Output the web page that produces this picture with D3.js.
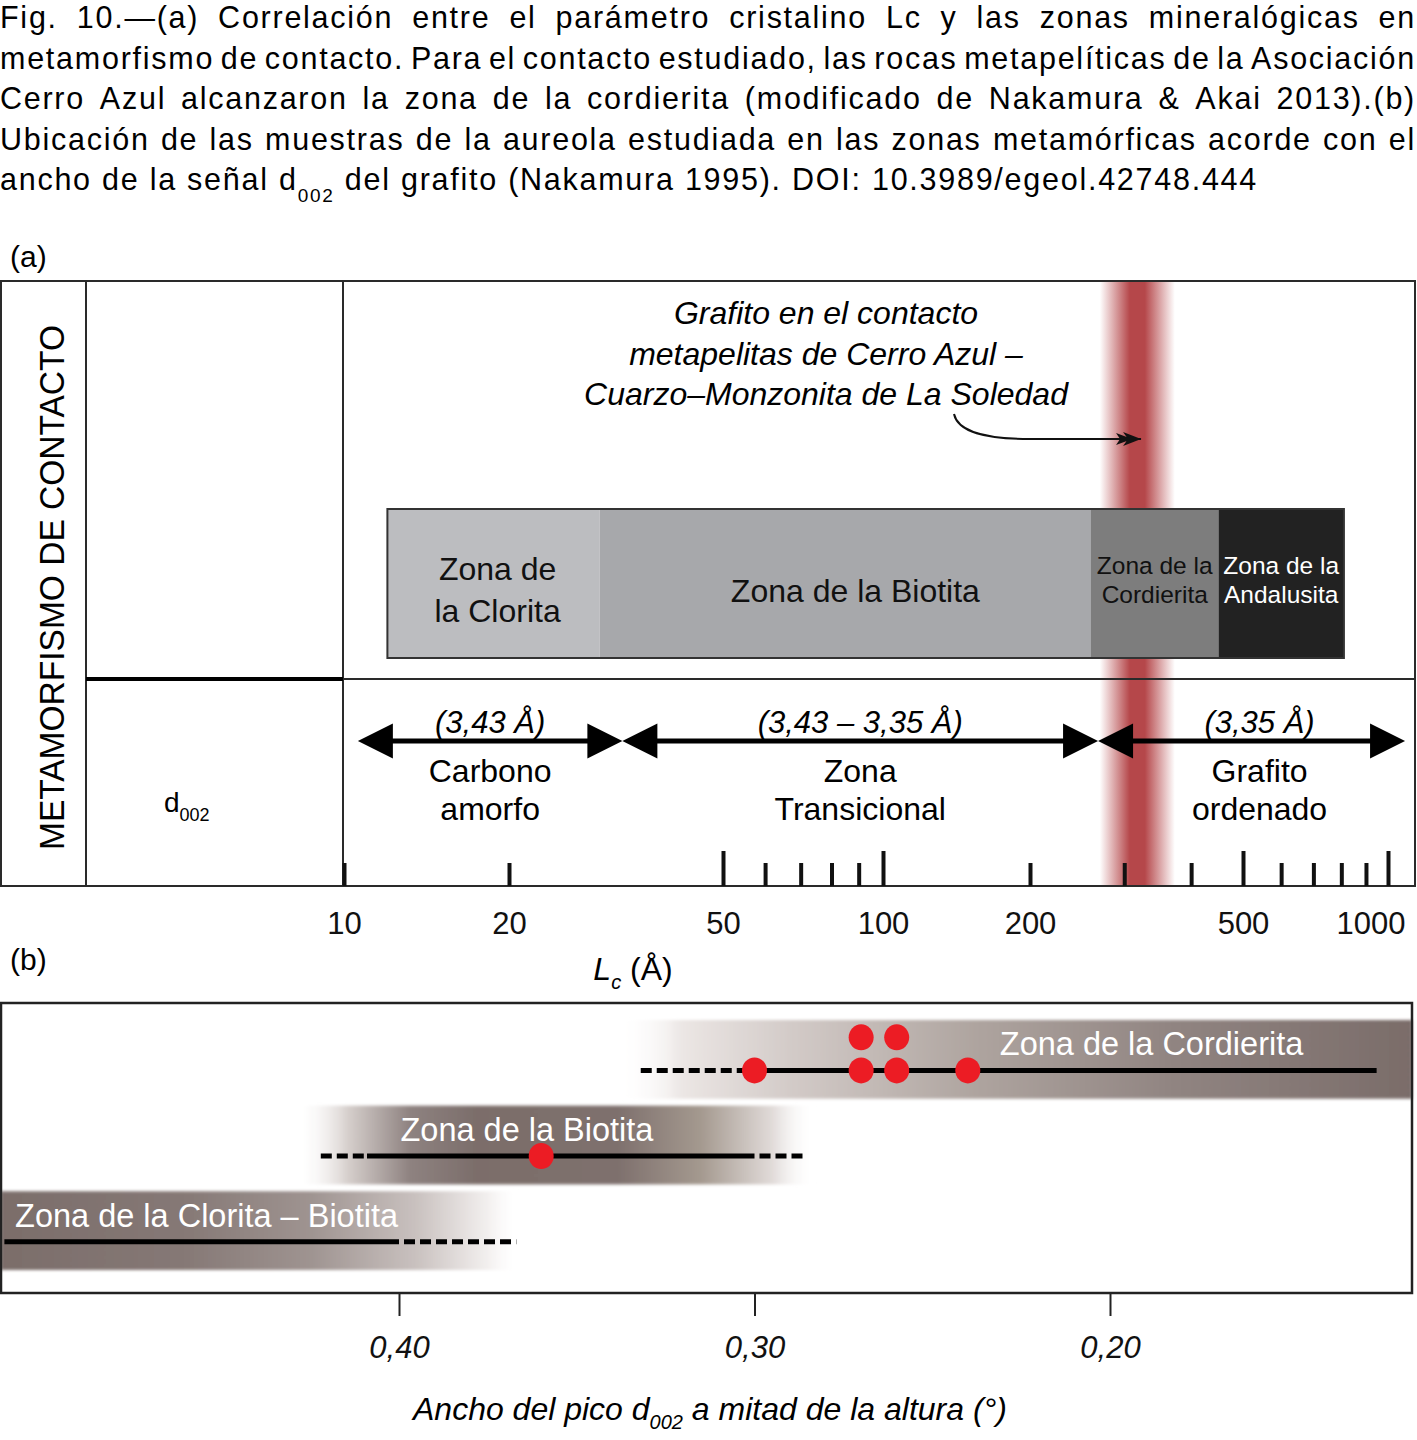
<!DOCTYPE html>
<html lang="es">
<head>
  <meta charset="UTF-8">
  <title>Fig. 10 - Lc y zonas metamórficas</title>
  <script src="https://d3js.org/d3.v7.min.js"></script>
  <style>
    body { margin: 0; background: #fff; }
    svg { display: block; font-family: "Liberation Sans", Arial, Helvetica, sans-serif; }
  </style>
</head>
<body>
<script>
  const width = 1417, height = 1440;

  // ---- caption ----
  const captionLines = [
    "Fig. 10.—(a) Correlación entre el parámetro cristalino Lc y las zonas mineralógicas en",
    "metamorfismo de contacto. Para el contacto estudiado, las rocas metapelíticas de la Asociación",
    "Cerro Azul alcanzaron la zona de la cordierita (modificado de Nakamura & Akai 2013).(b)",
    "Ubicación de las muestras de la aureola estudiada en las zonas metamórficas acorde con el"
  ];
  const captionLast = ["ancho de la señal d", "002", " del grafito (Nakamura 1995). DOI: 10.3989/egeol.42748.444"];

  // ---- panel (a): Lc (Å), hand drawn log axis ----
  const lcLabelTicks = [10, 20, 50, 100, 200, 500, 1000];
  const lcTallTicks = [50, 100, 500, 1000];
  const lcShortTicks = [10, 20, 60, 70, 80, 90, 200, 300, 400, 600, 700, 800, 900];

  const mineralNames = [["Zona de", "la Clorita"], ["Zona de la Biotita"], ["Zona de la", "Cordierita"], ["Zona de la", "Andalusita"]];
  const mineralFrom = [12, 29.5, 260, 450];
  const mineralTo = [29.5, 260, 450, 810];

  const carbonSpacing = ["(3,43 Å)", "(3,43 – 3,35 Å)", "(3,35 Å)"];
  const carbonNames = [["Carbono", "amorfo"], ["Zona", "Transicional"], ["Grafito", "ordenado"]];
  const carbonFrom = [10.6, 32.5, 268];
  const carbonTo = [32.5, 268, 1085];

  const contactBand = [270, 317, 373];   // Lc range of the studied contact

  // ---- panel (b): FWHM of d002 (°) ----
  const fwhmTicks = [0.40, 0.30, 0.20];
  const bZones = ["Zona de la Cordierita", "Zona de la Biotita", "Zona de la Clorita – Biotita"];
  const bBandFrom = [0.338, 0.429, 0.512];
  const bBandTo = [0.115, 0.283, 0.366];
  const bDashLeft = [0.332, 0.422, null];
  const bSolidFrom = [0.300, 0.409, 0.511];
  const bSolidTo = [0.125, 0.300, 0.400];
  const bDashRight = [null, 0.286, 0.367];
  const bLabelAt = [0.231, 0.364, 0.508];

  const sampleFwhm = [0.30, 0.27, 0.27, 0.26, 0.26, 0.24, 0.36];
  const sampleZone = [0, 0, 0, 0, 0, 0, 1];
  const sampleStack = [0, 0, 1, 0, 1, 0, 0];

  const svg = d3.select("body").append("svg")
    .attr("width", width)
    .attr("height", height);
  const defs = svg.append("defs");

  // caption: slightly tracked text, justified by word gaps
  const capSize = 30.5;
  const probe = svg.append("text").attr("font-size", capSize).text(captionLast[0] + captionLast[2]);
  const probeSub = svg.append("text").attr("font-size", 19).text(captionLast[1]);
  const capChars = (captionLast[0] + captionLast[1] + captionLast[2]).length;
  const tracking = Math.max(0, (1258 - probe.node().getComputedTextLength() - probeSub.node().getComputedTextLength()) / capChars);
  probe.remove();
  probeSub.remove();

  function justify(words, y) {
    const tmp = svg.append("text").attr("font-size", capSize).attr("letter-spacing", tracking);
    const w = words.map(s => { tmp.text(s); return tmp.node().getComputedTextLength(); });
    tmp.remove();
    const gap = (width - 1 - d3.sum(w)) / (words.length - 1);
    if (gap < 5) {
      svg.append("text").attr("x", 0).attr("y", y).attr("font-size", capSize)
        .attr("textLength", width - 1).attr("lengthAdjust", "spacingAndGlyphs")
        .text(words.join(" "));
      return;
    }
    let x = 0;
    words.forEach((s, i) => {
      svg.append("text").attr("x", x).attr("y", y).attr("font-size", capSize)
        .attr("letter-spacing", tracking).text(s);
      x += w[i] + gap;
    });
  }
  captionLines.forEach((line, i) => justify(line.split(" "), 28 + i * 40.6));
  const cap5 = svg.append("text").attr("x", 0).attr("y", 190).attr("font-size", capSize)
    .attr("letter-spacing", tracking);
  cap5.append("tspan").text(captionLast[0]);
  cap5.append("tspan").attr("font-size", 19).attr("dy", 12).text(captionLast[1]);
  cap5.append("tspan").attr("dy", -12).text(captionLast[2]);

  // ================= panel (a) =================
  const lc = d3.scaleLog()
    .domain(lcLabelTicks)
    .range([344, 509, 723, 883, 1030, 1243, 1388]);

  const aTop = 281, aMid = 679, aBot = 886;

  svg.append("text").attr("x", 10).attr("y", 267).attr("font-size", 30).text("(a)");

  // red band: studied contact
  const red = defs.append("linearGradient").attr("id", "redBand");
  [[0, 0], [0.2, 0.5], [0.4, 1], [0.6, 1], [0.8, 0.5], [1, 0]].forEach(s =>
    red.append("stop").attr("offset", s[0]).attr("stop-color", "#b5474a").attr("stop-opacity", s[1]));
  svg.append("rect")
    .attr("x", lc(contactBand[0])).attr("y", aTop + 1)
    .attr("width", lc(contactBand[2]) - lc(contactBand[0]))
    .attr("height", aBot - aTop - 1)
    .attr("fill", "url(#redBand)");

  // mineral zones box
  const zoneFill = ["#bcbdc0", "#a7a8ab", "#7d7d7d", "#222222"];
  const zoneText = ["#111", "#111", "#111", "#fff"];
  const zoneShift = [4, 10, 0, 0];
  const boxTop = 509, boxBot = 658;
  const zg = svg.append("g");
  zg.selectAll("rect").data(mineralFrom).join("rect")
    .attr("x", d => lc(d))
    .attr("y", boxTop)
    .attr("width", (d, i) => lc(mineralTo[i]) - lc(d))
    .attr("height", boxBot - boxTop)
    .attr("fill", (d, i) => zoneFill[i]);
  zg.append("rect")
    .attr("x", lc(mineralFrom[0])).attr("y", boxTop)
    .attr("width", lc(mineralTo[3]) - lc(mineralFrom[0]))
    .attr("height", boxBot - boxTop)
    .attr("fill", "none").attr("stroke", "#333").attr("stroke-width", 2);

  mineralNames.forEach((lines, i) => {
    const cx = (lc(mineralFrom[i]) + lc(mineralTo[i])) / 2 + zoneShift[i];
    const size = i < 2 ? 32 : 24.5;
    const ys = i === 0 ? [580, 622] : i === 1 ? [602] : [574, 603];
    lines.forEach((t, j) => {
      zg.append("text").attr("x", cx).attr("y", ys[j])
        .attr("text-anchor", "middle").attr("font-size", size)
        .attr("fill", zoneText[i]).text(t);
    });
  });

  // frame
  const frame = svg.append("g").attr("stroke", "#2a2a2a").attr("fill", "none");
  frame.append("rect").attr("x", 1).attr("y", aTop).attr("width", 1414).attr("height", aBot - aTop).attr("stroke-width", 2);
  frame.append("line").attr("x1", 86).attr("x2", 86).attr("y1", aTop).attr("y2", aBot).attr("stroke-width", 2);
  frame.append("line").attr("x1", 343).attr("x2", 343).attr("y1", aTop).attr("y2", aBot).attr("stroke-width", 2);
  frame.append("line").attr("x1", 86).attr("x2", 343).attr("y1", aMid).attr("y2", aMid).attr("stroke-width", 4).attr("stroke", "#000");
  frame.append("line").attr("x1", 343).attr("x2", 1415).attr("y1", aMid).attr("y2", aMid).attr("stroke-width", 2);

  // vertical title
  svg.append("text")
    .attr("transform", "translate(64,587.5) rotate(-90)")
    .attr("text-anchor", "middle")
    .attr("font-size", 35)
    .attr("textLength", 525).attr("lengthAdjust", "spacingAndGlyphs")
    .text("METAMORFISMO DE CONTACTO");

  const d002 = svg.append("text").attr("x", 164).attr("y", 812).attr("font-size", 28);
  d002.append("tspan").text("d");
  d002.append("tspan").attr("font-size", 18).attr("dy", 9).text("002");

  // annotation
  const note = ["Grafito en el contacto", "metapelitas de Cerro Azul –", "Cuarzo–Monzonita de La Soledad"];
  note.forEach((t, i) => {
    svg.append("text").attr("x", 826).attr("y", 324 + i * 40.5)
      .attr("text-anchor", "middle").attr("font-size", 32)
      .attr("font-style", "italic").text(t);
  });
  defs.append("marker").attr("id", "barb")
    .attr("viewBox", "-8 -8 28 16").attr("refX", 18).attr("refY", 0)
    .attr("markerUnits", "userSpaceOnUse")
    .attr("markerWidth", 28).attr("markerHeight", 16).attr("orient", "auto")
    .append("path").attr("d", "M0,-7L18,0L0,7L5,0ZM-7,-6L9,0L-7,6L-3,0Z").attr("fill", "#111");
  const tipX = lc(contactBand[1]) + 4;
  svg.append("path")
    .attr("d", `M954,414 C958,432 985,439 1030,439 L${tipX},439`)
    .attr("fill", "none").attr("stroke", "#111").attr("stroke-width", 2)
    .attr("marker-end", "url(#barb)");

  // carbon type arrows
  const arrowY = 741, headL = 35, headH = 17.5;
  const ag = svg.append("g");
  carbonFrom.forEach((f, i) => {
    const x0 = lc(f), x1 = lc(carbonTo[i]);
    ag.append("line").attr("x1", x0 + headL - 2).attr("x2", x1 - headL + 2)
      .attr("y1", arrowY).attr("y2", arrowY)
      .attr("stroke", "#000").attr("stroke-width", 5);
    ag.append("path").attr("d", `M${x0},${arrowY}L${x0 + headL},${arrowY - headH}L${x0 + headL},${arrowY + headH}Z`);
    ag.append("path").attr("d", `M${x1},${arrowY}L${x1 - headL},${arrowY - headH}L${x1 - headL},${arrowY + headH}Z`);
    const cx = (x0 + x1) / 2 + (i === 2 ? 8 : 0);
    ag.append("text").attr("x", cx).attr("y", 733)
      .attr("text-anchor", "middle").attr("font-size", 31).attr("font-style", "italic")
      .text(carbonSpacing[i]);
    carbonNames[i].forEach((t, j) => {
      ag.append("text").attr("x", cx).attr("y", 782 + j * 38)
        .attr("text-anchor", "middle").attr("font-size", 32).text(t);
    });
  });

  // Lc ticks and labels
  function styleTicks(g) {
    g.select(".domain").remove();
    g.selectAll(".tick line").attr("stroke", "#111").attr("stroke-width", 4);
  }
  svg.append("g").attr("transform", `translate(0,${aBot})`)
    .call(d3.axisBottom(lc).tickValues(lcShortTicks).tickSize(-23).tickFormat(""))
    .call(styleTicks);
  svg.append("g").attr("transform", `translate(0,${aBot})`)
    .call(d3.axisBottom(lc).tickValues(lcTallTicks).tickSize(-35).tickFormat(""))
    .call(styleTicks);
  const lcLab = svg.append("g").attr("transform", `translate(0,${aBot})`)
    .call(d3.axisBottom(lc).tickValues(lcLabelTicks).tickSize(0).tickPadding(26).tickFormat(d3.format("d")));
  lcLab.select(".domain").remove();
  lcLab.selectAll("text").attr("font-size", 31).attr("font-family", null).attr("fill", "#111");
  lcLab.selectAll(".tick").each(function (d) {
    const t = d3.select(this).select("text");
    const half = t.node().getComputedTextLength() / 2;
    const over = lc(d) + half - (width - 12);
    if (over > 0) t.attr("x", -over);
  });

  const lcTitle = svg.append("text").attr("x", 633).attr("y", 980)
    .attr("text-anchor", "middle").attr("font-size", 32);
  lcTitle.append("tspan").attr("font-style", "italic").text("L");
  lcTitle.append("tspan").attr("font-style", "italic").attr("font-size", 20).attr("dy", 9).text("c");
  lcTitle.append("tspan").attr("dy", -9).text(" (Å)");

  // ================= panel (b) =================
  svg.append("text").attr("x", 10).attr("y", 970).attr("font-size", 30).text("(b)");

  const bTop = 1003, bBot = 1293;
  const fw = d3.scaleLinear().domain([0.40, 0.20]).range([399, 1110]);
  const row = d3.scaleBand().domain(d3.range(bZones.length)).range([1020, 1270]).paddingInner(0.08);
  const bw = row.bandwidth();

  const bandStops = [
    [[0, "#fff", 0], [0.08, "#ebe6e4", 1], [0.22, "#d2cac7", 1], [0.45, "#aea49f", 1], [0.7, "#908481", 1], [1, "#7a6c69", 1]],
    [[0, "#fff", 0], [0.1, "#d6cfcc", 1], [0.22, "#8e8280", 1], [0.35, "#7b6d6a", 1], [0.62, "#7e706d", 1], [0.78, "#a4998f", 1], [0.92, "#e2dcda", 1], [1, "#fff", 0]],
    [[0, "#7b6d6a", 1], [0.35, "#857875", 1], [0.6, "#9f9491", 1], [0.8, "#c9c1bf", 1], [0.94, "#f3f0ef", 1], [1, "#fff", 0]]
  ];
  bandStops.forEach((stops, i) => {
    const g = defs.append("linearGradient").attr("id", "band" + i);
    stops.forEach(s => g.append("stop").attr("offset", s[0]).attr("stop-color", s[1]).attr("stop-opacity", s[2]));
  });
  defs.append("filter").attr("id", "soft").append("feGaussianBlur").attr("stdDeviation", 1.5);

  const bg = svg.append("g");
  bg.selectAll("rect.band").data(bZones).join("rect").attr("class", "band")
    .attr("x", (d, i) => fw(bBandFrom[i]))
    .attr("y", (d, i) => row(i))
    .attr("width", (d, i) => Math.min(fw(bBandTo[i]), 1412) - fw(bBandFrom[i]))
    .attr("height", bw)
    .attr("fill", (d, i) => `url(#band${i})`)
    .attr("filter", "url(#soft)");

  bg.selectAll("text.zlabel").data(bZones).join("text").attr("class", "zlabel")
    .attr("x", (d, i) => fw(bLabelAt[i]))
    .attr("y", (d, i) => row(i) + bw * 0.45)
    .attr("text-anchor", (d, i) => i === 1 ? "middle" : "start")
    .attr("font-size", 32.5).attr("fill", "#fff")
    .text(d => d);

  const lineY = i => row(i) + bw * 0.64;
  bZones.forEach((z, i) => {
    if (bDashLeft[i] !== null) {
      bg.append("line").attr("x1", fw(bDashLeft[i])).attr("x2", fw(bSolidFrom[i]))
        .attr("y1", lineY(i)).attr("y2", lineY(i))
        .attr("stroke", "#000").attr("stroke-width", 5).attr("stroke-dasharray", "11,5");
    }
    bg.append("line").attr("x1", fw(bSolidFrom[i])).attr("x2", fw(bSolidTo[i]))
      .attr("y1", lineY(i)).attr("y2", lineY(i))
      .attr("stroke", "#000").attr("stroke-width", 5);
    if (bDashRight[i] !== null) {
      bg.append("line").attr("x1", fw(bSolidTo[i]) + 5).attr("x2", fw(bDashRight[i]))
        .attr("y1", lineY(i)).attr("y2", lineY(i))
        .attr("stroke", "#000").attr("stroke-width", 5).attr("stroke-dasharray", "11,5");
    }
  });

  bg.selectAll("ellipse").data(sampleFwhm).join("ellipse")
    .attr("cx", d => fw(d))
    .attr("cy", (d, i) => sampleStack[i] ? row(sampleZone[i]) + bw * 0.22 : lineY(sampleZone[i]))
    .attr("rx", 12.5).attr("ry", 13)
    .attr("fill", "#ec1c24");

  svg.append("rect").attr("x", 1).attr("y", bTop).attr("width", 1411).attr("height", bBot - bTop)
    .attr("fill", "none").attr("stroke", "#222").attr("stroke-width", 2.5);

  const fwAxis = svg.append("g").attr("transform", `translate(0,${bBot})`)
    .call(d3.axisBottom(fw).tickValues(fwhmTicks).tickSize(23).tickPadding(20)
      .tickFormat(d => d3.format(".2f")(d).replace(".", ",")));
  fwAxis.select(".domain").remove();
  fwAxis.selectAll(".tick line").attr("stroke", "#222").attr("stroke-width", 2);
  fwAxis.selectAll("text").attr("font-size", 31).attr("font-style", "italic").attr("fill", "#111");

  const fwTitle = svg.append("text").attr("x", 710).attr("y", 1420)
    .attr("text-anchor", "middle").attr("font-size", 32).attr("font-style", "italic");
  fwTitle.append("tspan").text("Ancho del pico d");
  fwTitle.append("tspan").attr("font-size", 20).attr("dy", 9).text("002");
  fwTitle.append("tspan").attr("dy", -9).text(" a mitad de la altura (°)");
</script>
</body>
</html>
